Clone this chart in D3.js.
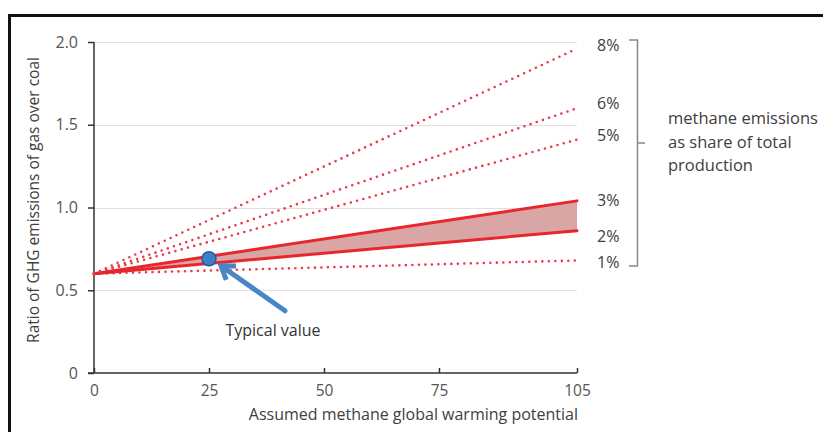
<!DOCTYPE html>
<html>
<head>
<meta charset="utf-8">
<script src="https://cdn.jsdelivr.net/npm/d3@7"></script>
<style>
  body { margin: 0; background: #fff; }
  svg { display: block; font-family: "Open Sans", sans-serif; }
</style>
</head>
<body>
<div id="chart"></div>
<script>
// methane emissions as share of total production
const shares = ["1%", "2%", "3%", "5%", "6%", "8%"];
const solidShares = ["2%", "3%"];
// ratio at gwp = 0 (all lines start here) and at gwp = 105
const startRatio = 0.6;
const endRatio = [0.68, 0.86, 1.04, 1.41, 1.60, 1.96];
const gwpDomain = [0, 105];
const xTicks = [0, 25, 50, 75, 105];
const yTicks = [0, 0.5, 1.0, 1.5, 2.0];
const typicalValue = [25, 0.69];
const legendLines = ["methane emissions", "as share of total", "production"];

var width = 823, height = 432;

let svg = d3.select("#chart").append("svg")
    .attr("width", width)
    .attr("height", height);

// outer frame
svg.append("rect")
    .attr("x", 9.5).attr("y", 15.5)
    .attr("width", 830).attr("height", 440)
    .attr("fill", "white")
    .attr("stroke", "#111")
    .attr("stroke-width", 3);

const x = d3.scaleLinear().domain(gwpDomain).range([94, 577]);
const y = d3.scaleLinear().domain([0, 2]).range([373, 42]);

// gridlines
svg.append("g")
    .selectAll("line")
    .data(yTicks.filter(d => d > 0))
    .join("line")
    .attr("x1", x(0)).attr("x2", x(105))
    .attr("y1", d => Math.round(y(d)) + 0.5)
    .attr("y2", d => Math.round(y(d)) + 0.5)
    .attr("stroke", "#e0e0e0")
    .attr("stroke-width", 1);

// y axis
const yAxis = svg.append("g")
    .attr("transform", "translate(" + x(0) + ",0)")
    .call(d3.axisLeft(y).tickValues(yTicks)
        .tickFormat(d => d === 0 ? "0" : d3.format(".1f")(d))
        .tickSize(6).tickPadding(10));
yAxis.select(".domain").attr("stroke", "#333").attr("stroke-width", 1.5).attr("d", "M0," + y(0) + "V" + y(2));
yAxis.selectAll(".tick line").attr("stroke", "#333").attr("stroke-width", 1.5);
yAxis.selectAll("text").attr("fill", "#555").style("font-size", "16px").style("font-family", "Open Sans");

// x axis
const xAxis = svg.append("g")
    .attr("transform", "translate(0," + y(0) + ")")
    .call(d3.axisTop(x).tickValues(xTicks).tickSize(5));
xAxis.select(".domain").attr("stroke", "#333").attr("stroke-width", 1.5).attr("d", "M" + (x(0) - 6) + ",0H" + x(105));
xAxis.selectAll(".tick line").attr("stroke", "#333").attr("stroke-width", 1.5);
xAxis.selectAll("text")
    .attr("y", 23)
    .attr("fill", "#555")
    .style("font-size", "15.5px").style("font-family", "Open Sans");

// axis titles
svg.append("text")
    .attr("transform", "translate(39,200) rotate(-90)")
    .attr("text-anchor", "middle")
    .attr("fill", "#404040")
    .style("font-size", "15.5px")
    .text("Ratio of GHG emissions of gas over coal");

svg.append("text")
    .attr("x", 578).attr("y", 420)
    .attr("text-anchor", "end")
    .attr("fill", "#404040")
    .style("font-size", "16px")
    .text("Assumed methane global warming potential");

// band between 2% and 3%
const i2 = shares.indexOf("2%"), i3 = shares.indexOf("3%");
svg.append("path")
    .attr("d", d3.area()
        .x(d => x(d))
        .y0(d => y(startRatio + (endRatio[i2] - startRatio) * d / 105))
        .y1(d => y(startRatio + (endRatio[i3] - startRatio) * d / 105))(gwpDomain))
    .attr("fill", "#d9a5a5");

// lines
const lineGen = d3.line().x(d => x(d[0])).y(d => y(d[1]));
svg.append("g")
    .selectAll("path")
    .data(shares)
    .join("path")
    .attr("d", (s, i) => lineGen([[0, startRatio], [105, endRatio[i]]]))
    .attr("fill", "none")
    .attr("stroke", s => solidShares.includes(s) ? "#e8262b" : "#e83a4c")
    .attr("stroke-width", s => solidShares.includes(s) ? 3 : 2.6)
    .attr("stroke-dasharray", s => solidShares.includes(s) ? null : "0 6.5")
    .attr("stroke-linecap", "round");

// share labels
const labelNudge = { "1%": 2, "2%": 5, "3%": -1, "5%": -5, "6%": -5, "8%": -4 };
svg.append("g")
    .selectAll("text")
    .data(shares)
    .join("text")
    .attr("x", 597)
    .attr("y", (s, i) => y(endRatio[i]) + labelNudge[s] + 6)
    .attr("fill", "#404040")
    .style("font-size", "16px")
    .text(s => s);

// bracket
const bTop = 40, bBot = 266, bx = 637.5;
svg.append("path")
    .attr("d", "M629," + bTop + "H" + bx + "V" + bBot + "H629 M" + bx + ",143H645")
    .attr("fill", "none")
    .attr("stroke", "#888")
    .attr("stroke-width", 1.5);

svg.append("g")
    .selectAll("text")
    .data(legendLines)
    .join("text")
    .attr("x", 668)
    .attr("y", (d, i) => 124 + i * 23.5)
    .attr("fill", "#404040")
    .style("font-size", "16.5px")
    .text(d => d);

// typical value marker and arrow
const px = x(typicalValue[0]), py = y(typicalValue[1]);
const tip = [px + 12, py + 7], tail = [px + 76, py + 52];
const ang = Math.atan2(tail[1] - tip[1], tail[0] - tip[0]);
const armLen = 15, spread = 0.6;
svg.append("line")
    .attr("x1", tail[0]).attr("y1", tail[1])
    .attr("x2", tip[0] + 2 * Math.cos(ang)).attr("y2", tip[1] + 2 * Math.sin(ang))
    .attr("stroke", "#4a85c6").attr("stroke-width", 5).attr("stroke-linecap", "round");
svg.append("path")
    .attr("d", "M" + (tip[0] + armLen * Math.cos(ang - spread)) + "," + (tip[1] + armLen * Math.sin(ang - spread)) +
        "L" + tip[0] + "," + tip[1] +
        "L" + (tip[0] + armLen * Math.cos(ang + spread)) + "," + (tip[1] + armLen * Math.sin(ang + spread)))
    .attr("fill", "none")
    .attr("stroke", "#4a85c6").attr("stroke-width", 5)
    .attr("stroke-linejoin", "miter").attr("stroke-linecap", "butt");

svg.append("circle")
    .attr("cx", px).attr("cy", py).attr("r", 7)
    .attr("fill", "#3d7fc8")
    .attr("stroke", "#2a5a93").attr("stroke-width", 1.5);

svg.append("text")
    .attr("x", 273).attr("y", 336)
    .attr("text-anchor", "middle")
    .attr("fill", "#333")
    .style("font-size", "16px")
    .text("Typical value");
</script>
</body>
</html>
